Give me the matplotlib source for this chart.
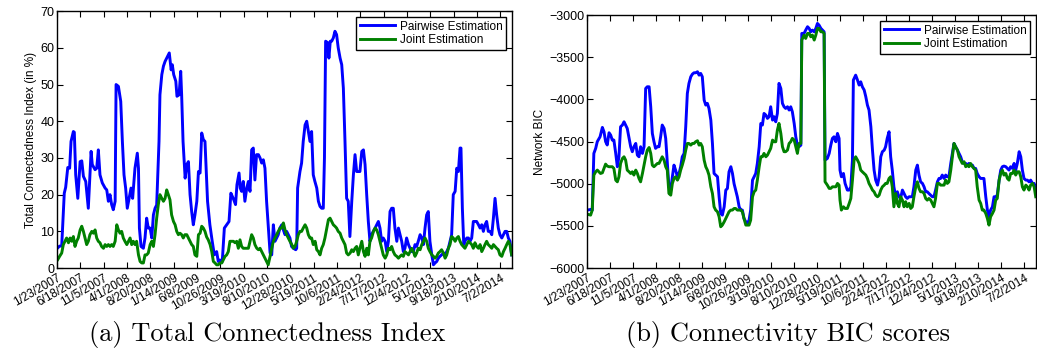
import numpy as np
import matplotlib
matplotlib.use('Agg')
import matplotlib.pyplot as plt

plt.rcParams['font.family'] = ['Liberation Sans', 'DejaVu Sans']

# fechas de los ticks (cada 100 dias de mercado)
date_labels = ['1/23/2007', '6/18/2007', '11/5/2007', '4/1/2008', '8/20/2008',
               '1/14/2009', '6/8/2009', '10/26/2009', '3/19/2010', '8/10/2010',
               '12/28/2010', '5/19/2011', '10/6/2011', '2/24/2012', '7/17/2012',
               '12/4/2012', '5/1/2013', '9/18/2013', '2/10/2014', '7/2/2014']

# (a) Total Connectedness Index - Pairwise
tci_pair_day = [3, 11, 20, 26, 31, 37, 46, 54, 60, 70, 74, 80, 89, 99, 106, 113, 123, 134, 146, 151,
                163, 170, 177, 184, 194, 206, 213, 220, 227, 234, 241, 249, 253, 263, 273, 280, 287, 294, 301, 309,
                317, 324, 334, 344, 349, 353, 360, 370, 377, 384, 391, 399, 406, 413, 420, 427, 437, 441, 449, 456,
                463, 470, 477, 481, 489, 494, 500, 509, 514, 523, 530, 534, 540, 549, 556, 563, 570, 577, 584, 591,
                599, 606, 613, 620, 627, 634, 645, 655, 665, 674, 684, 691, 698, 708, 717, 727, 737, 745, 755, 765,
                771, 780, 785, 791, 798, 805, 813, 820, 827, 834, 841, 848, 855, 863, 870, 877, 884, 891, 898, 905,
                913, 920, 927, 934, 941, 948, 955, 963, 970, 977, 984, 991, 998, 1005, 1013, 1023, 1027, 1031, 1041, 1048,
                1055, 1063, 1070, 1077, 1084, 1091, 1098, 1105, 1113, 1120, 1127, 1134, 1141, 1146, 1151, 1160, 1165, 1171, 1177, 1184,
                1191, 1198, 1205, 1213, 1220, 1227, 1234, 1241, 1248, 1255, 1263, 1270, 1277, 1284, 1298, 1306, 1313, 1320, 1327, 1334,
                1341, 1348, 1355, 1363, 1370, 1377, 1384, 1391, 1398, 1406, 1413, 1420, 1427, 1434, 1441, 1448, 1456, 1463, 1470, 1477,
                1484, 1491, 1498, 1506, 1513, 1520, 1527, 1534, 1541, 1548, 1556, 1563, 1570, 1577, 1584, 1591, 1598, 1606, 1613, 1620,
                1627, 1634, 1641, 1648, 1656, 1663, 1670, 1677, 1684, 1691, 1698, 1706, 1713, 1720, 1727, 1731, 1737, 1743, 1748, 1756,
                1763, 1770, 1777, 1784, 1791, 1798, 1806, 1813, 1820, 1827, 1834, 1841, 1848, 1856, 1863, 1870, 1877, 1884, 1891, 1898,
                1906, 1913, 1920, 1927, 1934, 1941, 1948]
tci_pair = [5.5, 6, 6, 14, 20.4, 22, 27.4, 27.2, 34.5, 37.2, 37, 25.4, 19, 29, 29.2, 25, 23.6, 16.3, 31.8, 28.2,
            26.8, 27.2, 32.2, 25.4, 23.2, 21.8, 21.3, 18.2, 20, 17.3, 15.9, 18.2, 50, 49.5, 45.4, 34.5, 25.4, 21.8, 16.3, 19,
            21.8, 19, 27.2, 31.3, 27.2, 10.9, 5.9, 5.4, 8.2, 13.6, 10.9, 10.9, 8.2, 14.5, 16.3, 17.2, 34.5, 47.2, 52.7, 55,
            56.3, 57.2, 58.1, 58.6, 54, 55.4, 52.7, 50.9, 46.8, 47.2, 53.6, 47.2, 34.5, 24.5, 28.2, 29, 20, 15.4, 11.8, 14.5,
            18.2, 26.3, 25.9, 36.8, 35, 34.5, 18.2, 11.8, 7.3, 3.6, 4.5, 1.8, 2.2, 1.8, 10.9, 11.8, 12.7, 20.4, 19, 17.3,
            22.7, 25.9, 21.8, 20.9, 23.6, 18.2, 21.8, 23.6, 20.9, 32.2, 32.7, 24, 30.9, 30.9, 30, 28.6, 29.5, 27.2, 18.2, 11.8,
            4.1, 3.6, 11.8, 7.3, 8.2, 9.1, 10.9, 11.8, 10.4, 9.1, 10, 9.1, 8.2, 5.9, 5.4, 5, 5.4, 21.8, 26.3, 28.6,
            34.5, 39, 40, 37.2, 34.5, 37.2, 25.4, 23.6, 21.8, 18.2, 16.8, 16.3, 16.3, 30, 61.8, 61.4, 57.2, 61.8, 61.8, 62.7,
            64.5, 63.6, 60, 57.2, 55.4, 49, 34.5, 19, 18.2, 8.6, 18.2, 25.4, 30.9, 26.3, 26.3, 31.8, 32.2, 28.2, 20, 12.7,
            7.3, 9.1, 10, 10.9, 11.8, 12.7, 10.9, 7.3, 8.2, 7.3, 4.5, 7.3, 15.4, 16.3, 16.3, 10.9, 7.3, 10.9, 9.1, 7.3,
            4.5, 5.4, 8.2, 6.4, 5.4, 4.5, 4.5, 6.4, 5.9, 7.3, 9.1, 8.2, 6.4, 10.9, 14.5, 15.4, 7.3, 3.6, 0.9, 1.4,
            1.8, 2.7, 3.2, 3.6, 4.1, 3.6, 4.5, 5.4, 7.3, 9.1, 20, 20.9, 27.2, 26.3, 32.7, 32.7, 16.3, 6.4, 7.3, 8.2,
            8.2, 7.3, 8.2, 12.7, 12.7, 12.7, 11.8, 10.9, 11.8, 10, 11.8, 12.7, 10, 10, 9.1, 13.6, 19, 14.5, 10.9, 9.1,
            8.2, 9.1, 10, 10, 8.2, 7.3, 3.6]

# (a) Total Connectedness Index - Joint
tci_joint_day = [3, 11, 20, 27, 34, 41, 49, 56, 63, 70, 77, 84, 91, 99, 106, 113, 120, 127, 134, 141,
                 149, 156, 163, 170, 177, 184, 191, 199, 206, 213, 220, 227, 234, 241, 249, 256, 263, 270, 277, 284,
                 291, 299, 306, 313, 320, 327, 334, 341, 349, 356, 363, 370, 377, 384, 391, 399, 406, 413, 420, 427,
                 434, 441, 449, 456, 463, 470, 477, 484, 491, 499, 506, 513, 520, 527, 534, 541, 548, 556, 563, 570,
                 577, 584, 591, 599, 606, 613, 620, 627, 634, 641, 648, 656, 663, 670, 677, 684, 691, 698, 706, 713,
                 720, 727, 734, 741, 748, 756, 763, 770, 777, 784, 791, 798, 805, 813, 820, 827, 834, 841, 848, 856,
                 863, 870, 877, 884, 891, 898, 905, 913, 920, 927, 934, 941, 948, 956, 963, 970, 977, 984, 991, 998,
                 1006, 1013, 1020, 1027, 1034, 1041, 1048, 1055, 1063, 1070, 1077, 1084, 1091, 1098, 1106, 1113, 1120, 1127, 1134, 1141,
                 1148, 1156, 1163, 1170, 1177, 1184, 1191, 1198, 1205, 1213, 1220, 1227, 1234, 1241, 1248, 1256, 1263, 1270, 1277, 1284,
                 1291, 1298, 1306, 1313, 1320, 1327, 1334, 1341, 1348, 1356, 1363, 1370, 1377, 1384, 1391, 1398, 1406, 1413, 1420, 1427,
                 1434, 1441, 1448, 1456, 1463, 1470, 1477, 1484, 1491, 1498, 1506, 1513, 1520, 1527, 1534, 1541, 1548, 1556, 1563, 1570,
                 1577, 1584, 1591, 1598, 1606, 1613, 1620, 1627, 1634, 1641, 1648, 1656, 1663, 1670, 1677, 1684, 1691, 1698, 1706, 1713,
                 1720, 1727, 1734, 1741, 1748, 1756, 1763, 1770, 1777, 1784, 1791, 1798, 1806, 1813, 1820, 1827, 1834, 1841, 1848, 1856,
                 1863, 1870, 1877, 1884, 1891, 1898, 1906, 1913, 1920, 1927, 1934, 1941, 1948]
tci_joint = [2.3, 3.2, 4.1, 6.4, 7.3, 8.2, 6.9, 8.2, 7.3, 8.6, 5.9, 7.3, 8.2, 10.4, 11.4, 10, 8.2, 6.4, 7.3, 9.1,
             10, 9.5, 10.4, 8.2, 7.3, 6.9, 5.9, 5.4, 6.4, 5.9, 6.4, 5.9, 6.4, 5.9, 7.3, 11.8, 10.4, 9.5, 10, 8.2,
             7.3, 6.4, 7.3, 8.2, 6.4, 7.3, 6.4, 7.3, 3.6, 1.8, 1.4, 1.4, 3.6, 3.6, 4.1, 6.4, 7.3, 5.9, 9.1, 13.6,
             17.3, 20, 19, 18.2, 19, 21.3, 20, 18.6, 14.5, 12.7, 11.8, 10, 9.1, 9.5, 9.1, 8.2, 9.1, 9.1, 8.2, 7.3,
             6.4, 5.9, 3.6, 3.2, 9.1, 9.5, 11.4, 10.9, 10, 8.5, 7.7, 6.4, 4.5, 1.8, 1.4, 0.9, 0.9, 1.4, 1.4, 2.3,
             3.2, 3.6, 4.5, 7.3, 7.3, 7.3, 6.9, 7.3, 5.4, 7.7, 5.9, 5.4, 5.4, 5.4, 5.4, 7.3, 9.1, 8.2, 6.4, 5.4,
             5, 5.4, 4.5, 3.6, 2.7, 1.8, 0.9, 3.2, 5.4, 7.3, 8.2, 9.1, 10, 10.9, 10.9, 12.3, 10.4, 9.1, 8.2, 7.3,
             6.4, 5.4, 5.9, 7.3, 9.1, 10, 10, 10.9, 11.8, 10.9, 9.1, 8.2, 8.2, 6.4, 7.3, 5, 4.5, 3.6, 5.4, 6.4,
             8.2, 10.9, 13.2, 13.6, 12.7, 11.8, 11.4, 10.9, 10, 9.5, 8.2, 7.3, 6.4, 4.1, 3.6, 4.1, 5, 4.5, 5.4, 5.9,
             3.6, 5.4, 7.3, 4.5, 3.2, 5.4, 3.6, 7.3, 8.2, 10, 10.9, 10.4, 9.1, 7.3, 5.4, 3.6, 2.7, 3.6, 5.4, 5,
             5.9, 4.5, 3.6, 3.2, 2.7, 3.2, 3.6, 3.2, 4.5, 4.1, 3.6, 4.5, 5.4, 4.5, 3.2, 4.1, 5.4, 5, 6.4, 7.3,
             8.2, 7.3, 5.4, 4.5, 3.6, 3.2, 2.7, 3.2, 4.1, 4.5, 5, 4.1, 2.7, 3.6, 5.4, 6.4, 8.6, 8.2, 7.3, 8.2,
             8.6, 7.3, 6.4, 5.9, 5.4, 6.4, 7.3, 6.9, 6.4, 5.4, 6.9, 5.9, 5.4, 6.4, 4.5, 5.4, 6.4, 7.3, 6.4, 5.9,
             5.4, 6.4, 5.9, 5.4, 5, 3.6, 3.2, 4.5, 5.4, 6.4, 7.3, 6.4, 3.6]

# (b) Connectivity BIC scores - Pairwise
bic_pair_day = [1, 16, 23, 30, 38, 45, 57, 67, 74, 81, 88, 96, 103, 110, 117, 125, 132, 139, 146, 154,
                161, 168, 175, 183, 190, 197, 204, 212, 219, 226, 233, 241, 248, 255, 262, 270, 277, 284, 291, 298,
                306, 313, 320, 327, 335, 342, 349, 356, 364, 371, 378, 385, 393, 400, 407, 414, 422, 429, 436, 443,
                451, 458, 465, 472, 480, 487, 494, 501, 509, 516, 523, 530, 538, 545, 552, 559, 567, 574, 581, 588,
                596, 603, 610, 617, 625, 632, 639, 646, 653, 661, 668, 675, 682, 690, 697, 704, 711, 719, 726, 733,
                740, 748, 755, 762, 769, 777, 784, 791, 798, 806, 813, 820, 827, 834, 842, 849, 856, 863, 871, 878,
                885, 892, 900, 907, 914, 921, 929, 933, 943, 950, 958, 965, 972, 979, 987, 994, 1001, 1008, 1016, 1023,
                1030, 1034, 1044, 1052, 1059, 1066, 1073, 1081, 1088, 1095, 1099, 1105, 1114, 1121, 1131, 1139, 1146, 1153, 1157, 1167,
                1175, 1182, 1189, 1196, 1204, 1211, 1218, 1225, 1233, 1240, 1247, 1254, 1262, 1269, 1276, 1283, 1291, 1297, 1304, 1312,
                1319, 1326, 1333, 1341, 1348, 1355, 1362, 1370, 1377, 1384, 1391, 1399, 1406, 1413, 1420, 1428, 1435, 1442, 1449, 1457,
                1464, 1471, 1478, 1485, 1493, 1500, 1507, 1514, 1522, 1529, 1536, 1543, 1551, 1558, 1565, 1572, 1580, 1587, 1594, 1601,
                1609, 1616, 1623, 1630, 1638, 1645, 1652, 1659, 1666, 1674, 1681, 1688, 1695, 1703, 1710, 1717, 1724, 1732, 1739, 1746,
                1753, 1761, 1768, 1775, 1782, 1790, 1797, 1804, 1811, 1819, 1826, 1833, 1840, 1848, 1855, 1862, 1869, 1877, 1884, 1891,
                1898, 1906, 1913, 1920, 1927, 1935, 1942, 1949]
bic_pair = [-5312, -5305, -5312, -4640, -4580, -4500, -4443, -4332, -4383, -4500, -4540, -4395, -4423, -4482, -4482, -4640, -4798, -4680, -4324, -4304,
            -4265, -4304, -4344, -4462, -4561, -4620, -4561, -4522, -4660, -4680, -4561, -4640, -4561, -3870, -3850, -3850, -4087, -4403, -4500, -4580,
            -4561, -4561, -4443, -4304, -4344, -4462, -4759, -5036, -5075, -4917, -4779, -4838, -4917, -4878, -4798, -4680, -4640, -4324, -3929, -3810,
            -3731, -3700, -3684, -3684, -3672, -3712, -3692, -3731, -4008, -4067, -4047, -4107, -4245, -4522, -4878, -4897, -4917, -5154, -5352, -5372,
            -5273, -5075, -5056, -4858, -4798, -4878, -5000, -5075, -5154, -5273, -5312, -5312, -5411, -5451, -5470, -5431, -5312, -4957, -4917, -4878,
            -4759, -4561, -4285, -4304, -4166, -4186, -4225, -4205, -4087, -4245, -4205, -4265, -4166, -3810, -3870, -4047, -4087, -4107, -4087, -4126,
            -4087, -4146, -4285, -4443, -4542, -4561, -4542, -3217, -3217, -3178, -3138, -3158, -3198, -3178, -3198, -3158, -3099, -3119, -3158, -3178,
            -3198, -4719, -4700, -4640, -4542, -4462, -4443, -4502, -4403, -4462, -4838, -4917, -4878, -4996, -5075, -5075, -5036, -4719, -3771, -3712,
            -3771, -3830, -3791, -3850, -3889, -3968, -4067, -4126, -4324, -4601, -4838, -4957, -5016, -4917, -4680, -4620, -4601, -4561, -4462, -4383,
            -4680, -4838, -5036, -5154, -5095, -5154, -5174, -5075, -5115, -5154, -5174, -5154, -5154, -5154, -5036, -4838, -4779, -4897, -4977, -4996,
            -5036, -5095, -5095, -5115, -5135, -5154, -5154, -5075, -4977, -4937, -4937, -4897, -4937, -4897, -4917, -4917, -4759, -4640, -4522, -4561,
            -4601, -4640, -4680, -4739, -4759, -4759, -4779, -4759, -4779, -4779, -4818, -4818, -4878, -4917, -4937, -4937, -4937, -5154, -5312, -5391,
            -5312, -5273, -5154, -5154, -5135, -4957, -4838, -4798, -4790, -4798, -4818, -4838, -4798, -4818, -4759, -4838, -4759, -4620, -4680, -4838,
            -4937, -4957, -4957, -4977, -4957, -4996, -4996, -5075]

# (b) Connectivity BIC scores - Joint
bic_joint_day = [1, 16, 23, 30, 38, 45, 52, 59, 67, 74, 81, 88, 96, 103, 110, 117, 125, 132, 139, 146,
                 154, 161, 168, 175, 183, 190, 197, 204, 212, 219, 226, 233, 241, 248, 255, 262, 270, 277, 284, 291,
                 298, 306, 313, 320, 327, 335, 342, 349, 356, 364, 371, 378, 385, 393, 400, 407, 414, 422, 429, 436,
                 443, 451, 458, 465, 472, 480, 487, 494, 501, 509, 516, 523, 530, 538, 545, 552, 559, 567, 574, 581,
                 588, 596, 603, 610, 617, 625, 632, 639, 646, 653, 661, 668, 675, 682, 690, 697, 704, 711, 719, 726,
                 733, 740, 748, 755, 762, 769, 777, 784, 791, 798, 806, 813, 820, 827, 834, 842, 849, 856, 863, 871,
                 878, 885, 892, 900, 907, 914, 921, 929, 933, 943, 950, 958, 965, 972, 979, 987, 994, 1001, 1008, 1016,
                 1023, 1030, 1034, 1044, 1052, 1059, 1066, 1073, 1081, 1088, 1095, 1099, 1105, 1114, 1121, 1131, 1139, 1146, 1153, 1160,
                 1167, 1175, 1182, 1189, 1196, 1204, 1211, 1218, 1225, 1233, 1240, 1247, 1254, 1262, 1269, 1276, 1283, 1291, 1297, 1304,
                 1312, 1319, 1326, 1333, 1341, 1348, 1355, 1362, 1370, 1377, 1384, 1391, 1399, 1406, 1413, 1420, 1428, 1435, 1442, 1449,
                 1457, 1464, 1471, 1478, 1485, 1493, 1500, 1507, 1514, 1522, 1529, 1536, 1543, 1551, 1558, 1565, 1572, 1580, 1587, 1594,
                 1601, 1609, 1616, 1623, 1630, 1638, 1645, 1652, 1659, 1666, 1674, 1681, 1688, 1695, 1703, 1710, 1717, 1724, 1732, 1739,
                 1746, 1753, 1761, 1768, 1775, 1782, 1790, 1797, 1804, 1811, 1819, 1826, 1833, 1840, 1848, 1855, 1862, 1869, 1877, 1884,
                 1891, 1898, 1906, 1913, 1920, 1927, 1935, 1942, 1949]
bic_joint = [-5360, -5372, -5312, -4897, -4858, -4838, -4858, -4878, -4870, -4818, -4767, -4790, -4798, -4798, -4798, -4818, -4957, -4977, -4917, -4759,
             -4700, -4680, -4720, -4838, -4858, -4878, -4858, -4897, -4838, -4878, -4937, -4977, -4878, -4779, -4680, -4601, -4570, -4640, -4779, -4798,
             -4779, -4759, -4759, -4720, -4680, -4720, -4798, -4838, -5115, -5135, -4996, -4937, -4917, -4957, -4917, -4838, -4779, -4700, -4601, -4522,
             -4522, -4542, -4522, -4522, -4502, -4490, -4542, -4522, -4561, -4720, -4798, -4838, -4897, -5036, -5115, -5273, -5312, -5332, -5391, -5510,
             -5490, -5451, -5411, -5372, -5332, -5312, -5312, -5293, -5293, -5312, -5312, -5312, -5332, -5411, -5490, -5490, -5490, -5431, -5154, -5095,
             -5075, -4957, -4798, -4680, -4680, -4640, -4680, -4660, -4620, -4581, -4482, -4502, -4502, -4364, -4285, -4403, -4561, -4620, -4620, -4600,
             -4522, -4502, -4462, -4482, -4561, -4640, -4522, -4522, -3296, -3237, -3277, -3217, -3217, -3257, -3237, -3296, -3237, -3158, -3158, -3198,
             -3198, -3217, -4976, -5016, -5055, -5055, -5036, -5036, -5036, -4996, -5016, -5194, -5312, -5273, -5293, -5293, -5233, -5174, -4957, -4720,
             -4680, -4720, -4759, -4838, -4858, -4878, -4897, -4937, -4996, -5036, -5075, -5095, -5135, -5154, -5135, -5075, -5036, -5016, -4996, -4996,
             -4937, -4917, -5036, -5273, -5115, -5233, -5273, -5154, -5194, -5273, -5213, -5273, -5233, -5293, -5273, -5154, -5036, -4977, -5055, -5095,
             -5095, -5115, -5174, -5194, -5174, -5194, -5233, -5273, -5174, -4996, -4996, -5016, -5016, -5016, -4957, -4996, -4977, -4838, -4680, -4522,
             -4561, -4601, -4680, -4720, -4759, -4739, -4798, -4779, -4798, -4759, -4798, -4818, -4838, -5036, -5194, -5233, -5312, -5312, -5352, -5411,
             -5490, -5391, -5352, -5312, -5194, -5174, -4957, -4878, -4838, -4897, -4878, -4937, -4957, -4878, -4878, -4838, -4897, -4858, -4858, -4917,
             -5036, -5075, -5016, -5036, -5075, -5016, -4996, -5036, -5154]

BLUE = (0, 0, 1)
GREEN = (0, 0.5, 0)

fig = plt.figure(figsize=(10.37, 3.5), dpi=100)
ax1 = fig.add_axes([0.055, 0.234, 0.4388, 0.7343])
ax2 = fig.add_axes([0.566, 0.234, 0.433, 0.7229])

ax1.plot(tci_pair_day, tci_pair, color=BLUE, linewidth=2.1, label='Pairwise Estimation')
ax1.plot(tci_joint_day, tci_joint, color=GREEN, linewidth=2.1, label='Joint Estimation')
ax1.set_ylim(0, 70)
ax1.set_ylabel('Total Connectedness Index (in %)', fontsize=8.5, labelpad=2)

ax2.plot(bic_pair_day, bic_pair, color=BLUE, linewidth=2.1, label='Pairwise Estimation')
ax2.plot(bic_joint_day, bic_joint, color=GREEN, linewidth=2.1, label='Joint Estimation')
ax2.set_ylim(-6000, -3000)
ax2.set_ylabel('Network BIC', fontsize=8.5, labelpad=2)

for ax in (ax1, ax2):
    ax.set_xlim(0, 1950)
    ax.set_xticks(np.arange(len(date_labels)) * 100)
    ax.set_xticklabels(date_labels, rotation=30, ha='right', rotation_mode='anchor', fontsize=8.5)
    ax.tick_params(direction='in', top=True, right=True, length=4, width=0.8, labelsize=9, pad=2)
    ax.tick_params(axis='x', labelsize=8.5, pad=3)
    for s in ax.spines.values():
        s.set_linewidth(1.0)
    leg = ax.legend(loc='upper right', fontsize=8.5, fancybox=False, framealpha=1,
                    edgecolor='black', handlelength=3, borderpad=0.3, labelspacing=0.15,
                    borderaxespad=0.5, handletextpad=0.4)
    leg.get_frame().set_linewidth(1.0)

fig.text(0.258, 0.043, '(a) Total Connectedness Index', family='cmr10', fontsize=19,
         ha='center', va='center')
fig.text(0.76, 0.043, '(b) Connectivity BIC scores', family='cmr10', fontsize=19,
         ha='center', va='center')

fig.savefig('out.png', dpi=100)
